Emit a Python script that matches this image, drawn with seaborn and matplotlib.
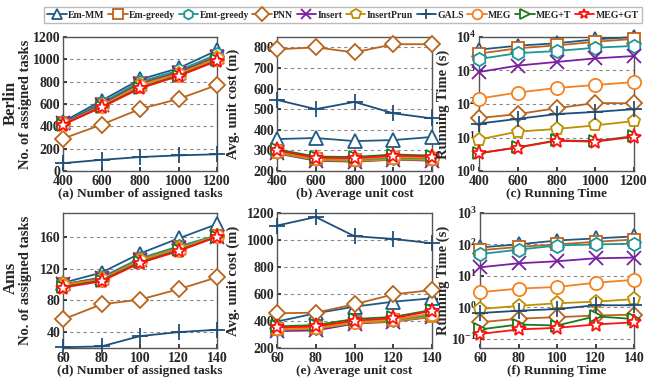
import numpy as np
import pandas as pd
import matplotlib
matplotlib.use("Agg")
import matplotlib.pyplot as plt
import seaborn as sns
from matplotlib.ticker import FixedLocator, FuncFormatter, NullLocator

# ---- data ---------------------------------------------------------------
methods = ["Em-MM", "Em-greedy", "Emt-greedy", "PNN", "Insert",
           "InsertPrun", "GALS", "MEG", "MEG+T", "MEG+GT"]

x_berlin = [400, 600, 800, 1000, 1200]
x_ams = [60, 80, 100, 120, 140]

# Berlin: number of assigned tasks
berlin_tasks = {
    "Em-MM":      [440, 630, 820, 920, 1080],
    "Em-greedy":  [430, 600, 790, 890, 1030],
    "Emt-greedy": [432, 610, 800, 900, 1045],
    "PNN":        [290, 415, 555, 645, 770],
    "Insert":     [430, 592, 780, 880, 1020],
    "InsertPrun": [422, 585, 772, 872, 1012],
    "GALS":       [70, 100, 125, 140, 150],
    "MEG":        [420, 580, 760, 862, 1000],
    "MEG+T":      [416, 575, 745, 855, 990],
    "MEG+GT":     [415, 570, 740, 850, 985],
}

# Berlin: average unit cost (m)
berlin_cost = {
    "Em-MM":      [355, 360, 345, 350, 365],
    "Em-greedy":  [295, 258, 254, 262, 258],
    "Emt-greedy": [293, 260, 255, 263, 260],
    "PNN":        [790, 800, 775, 815, 815],
    "Insert":     [285, 250, 245, 255, 250],
    "InsertPrun": [287, 254, 248, 256, 254],
    "GALS":       [545, 500, 535, 480, 455],
    "MEG":        [298, 262, 258, 270, 265],
    "MEG+T":      [305, 270, 268, 280, 275],
    "MEG+GT":     [300, 265, 262, 275, 270],
}

# Berlin: running time (s)
berlin_time = {
    "Em-MM":      [4200, 5500, 6500, 8500, 10000],
    "Em-greedy":  [3200, 4600, 5600, 7200, 8800],
    "Emt-greedy": [2200, 3300, 3800, 4800, 5400],
    "PNN":        [38, 50, 75, 107, 105],
    "Insert":     [900, 1400, 1800, 2300, 2700],
    "InsertPrun": [8.7, 15, 18, 23, 31],
    "GALS":       [26, 36, 50, 58, 70],
    "MEG":        [145, 220, 300, 370, 450],
    "MEG+T":      [3.4, 5.1, 8.2, 7.8, 11],
    "MEG+GT":     [3.4, 5.0, 8.0, 7.5, 10.5],
}

# Ams: number of assigned tasks
ams_tasks = {
    "Em-MM":      [102, 115, 139, 158, 176],
    "Em-greedy":  [100, 108, 132, 147, 161],
    "Emt-greedy": [100, 109, 133, 148, 162],
    "PNN":        [56, 75, 81, 94, 109],
    "Insert":     [100, 108, 131, 146, 160],
    "InsertPrun": [100, 107, 131, 146, 161],
    "GALS":       [21, 22, 35, 40, 43],
    "MEG":        [98, 106, 129, 144, 161],
    "MEG+T":      [97, 105, 128, 143, 160],
    "MEG+GT":     [96, 104, 127, 142, 160],
}

# Ams: average unit cost (m)
ams_cost = {
    "Em-MM":      [396, 457, 506, 543, 568],
    "Em-greedy":  [340, 348, 392, 408, 445],
    "Emt-greedy": [338, 346, 390, 406, 443],
    "PNN":        [457, 462, 524, 597, 629],
    "Insert":     [325, 330, 380, 395, 430],
    "InsertPrun": [335, 342, 385, 398, 432],
    "GALS":       [1107, 1170, 1028, 1008, 976],
    "MEG":        [345, 352, 395, 412, 455],
    "MEG+T":      [360, 370, 415, 430, 482],
    "MEG+GT":     [352, 360, 403, 421, 475],
}

# Ams: running time (s)
ams_time = {
    "Em-MM":      [80, 100, 133, 155, 180],
    "Em-greedy":  [65, 83, 100, 121, 143],
    "Emt-greedy": [49, 68, 92, 100, 105],
    "PNN":        [0.33, 0.43, 0.48, 0.54, 0.58],
    "Insert":     [18.6, 25, 29, 36, 38],
    "InsertPrun": [0.87, 1.1, 1.33, 1.5, 1.8],
    "GALS":       [0.65, 0.77, 0.87, 1.15, 1.15],
    "MEG":        [3.0, 3.9, 4.4, 6.0, 7.4],
    "MEG+T":      [0.195, 0.28, 0.26, 0.51, 0.42],
    "MEG+GT":     [0.14, 0.195, 0.22, 0.28, 0.33],
}

captions = ["(a) Number of assigned tasks", "(b) Average unit cost",
            "(c) Running Time", "(d) Number of assigned tasks",
            "(e) Average unit cost", "(f) Running Time"]

# ---- styles -------------------------------------------------------------
colors = {
    "Em-MM": "#1f5a85", "Em-greedy": "#c0621c", "Emt-greedy": "#1c9797",
    "PNN": "#b8651b", "Insert": "#7b1fa2", "InsertPrun": "#bf9000",
    "GALS": "#1f4e79", "MEG": "#f5821f", "MEG+T": "#1a7a1a",
    "MEG+GT": "#ff1010",
}
markers = {
    "Em-MM": "^", "Em-greedy": "s", "Emt-greedy": "h", "PNN": "D",
    "Insert": "x", "InsertPrun": "p", "GALS": "+", "MEG": "o",
    "MEG+T": ">", "MEG+GT": "*",
}
msizes = {
    "Em-MM": 10, "Em-greedy": 8.5, "Emt-greedy": 9.5, "PNN": 8.5, "Insert": 10,
    "InsertPrun": 9.5, "GALS": 11, "MEG": 9.5, "MEG+T": 8.5, "MEG+GT": 11,
}

sns.set_theme(style="ticks")
plt.rcParams.update({
    "font.family": ["Liberation Serif", "DejaVu Serif"],
    "font.weight": "bold",
    "axes.labelweight": "bold",
    "mathtext.fontset": "custom",
    "mathtext.rm": "Liberation Serif:bold",
    "mathtext.bf": "Liberation Serif:bold",
    "mathtext.it": "Liberation Serif:bold",
    "axes.edgecolor": "#555555",
    "axes.linewidth": 1.0,
    "xtick.direction": "in",
    "ytick.direction": "in",
})

W, H = 647, 381
fig = plt.figure(figsize=(W / 100, H / 100), dpi=100)


def box(l, t, r, b):
    return [l / W, 1 - b / H, (r - l) / W, (b - t) / H]


rects = [box(63, 37, 217, 171), box(277, 37, 432, 171), box(479, 37, 634, 171),
         box(63, 213, 217, 348), box(277, 213, 432, 348), box(480, 213, 634, 348)]
axes = [fig.add_axes(r) for r in rects]

panels = [
    (x_berlin, berlin_tasks, (0, 1200), False, [0, 200, 400, 600, 800, 1000, 1200]),
    (x_berlin, berlin_cost, (200, 850), False, [200, 300, 400, 500, 600, 700, 800]),
    (x_berlin, berlin_time, (1, 1e4), True, [1, 10, 100, 1000, 10000]),
    (x_ams, ams_tasks, (20, 190), False, [40, 80, 120, 160]),
    (x_ams, ams_cost, (200, 1200), False, [200, 400, 600, 800, 1000, 1200]),
    (x_ams, ams_time, (0.05, 1000), True, [0.1, 1, 10, 100, 1000]),
]

# horizontal position (figure px) of each y-axis title
ylabel_x = [32, 240, 450, 32, 240, 450]


def pow10(v, pos):
    return r"$\mathbf{10^{%d}}$" % int(round(np.log10(v)))


for i, (ax, (xs, table, ylim, logy, yticks)) in enumerate(zip(axes, panels)):
    for m in methods:
        df = pd.DataFrame({"x": xs, "y": table[m]})
        sns.lineplot(data=df, x="x", y="y", ax=ax, color=colors[m],
                     marker=markers[m], markersize=msizes[m],
                     markerfacecolor="white", markeredgecolor=colors[m],
                     markeredgewidth=1.3, linewidth=1.3, label=m,
                     legend=False, clip_on=False, zorder=3)
    if logy:
        ax.set_yscale("log")
        ax.yaxis.set_major_locator(FixedLocator(yticks))
        ax.yaxis.set_major_formatter(FuncFormatter(pow10))
        ax.yaxis.set_minor_locator(NullLocator())
    else:
        ax.set_yticks(yticks)
    ax.set_ylim(*ylim)
    ax.set_xlim(xs[0], xs[-1])
    ax.set_xticks(xs)
    ax.grid(axis="y", linestyle=(0, (3, 3)), color="#888888", linewidth=0.8)
    ax.set_axisbelow(True)
    ax.tick_params(axis="x", labelsize=10, length=3, pad=3)
    ax.tick_params(axis="y", labelsize=10, length=3, pad=2)
    for lab in ax.get_xticklabels() + ax.get_yticklabels():
        lab.set_fontweight("bold")
    ax.set_xlabel(captions[i], fontsize=9.6, fontweight="bold", labelpad=0)
    if i in (1, 4):
        ax.set_ylabel("Avg. unit cost (m)", fontsize=10.5)
    elif i in (2, 5):
        ax.set_ylabel("Running Time (s)", fontsize=10.5)
    else:
        ax.set_ylabel("No. of assigned tasks", fontsize=10.5)
    pos = ax.get_position()
    ax.yaxis.set_label_coords((ylabel_x[i] / W - pos.x0) / pos.width, 0.5)

fig.text(11 / W, 1 - 103 / H, "Berlin", rotation=90, ha="center", va="center",
         fontsize=12, fontweight="bold")
fig.text(11 / W, 1 - 278 / H, "Ams", rotation=90, ha="center", va="center",
         fontsize=12, fontweight="bold")

handles, labels = axes[0].get_legend_handles_labels()
leg = fig.legend(handles, labels, loc="center", ncol=10,
                 bbox_to_anchor=(343 / W, 1 - 15 / H), frameon=True,
                 handlelength=2.0, handletextpad=0.15,
                 columnspacing=0.35, borderpad=0.35, fancybox=False,
                 edgecolor="#aaaaaa",
                 prop={"family": "Liberation Serif", "weight": "bold",
                       "size": 7})
for h in leg.legend_handles:
    h.set_markersize(7)

fig.savefig("out.png", dpi=100)
